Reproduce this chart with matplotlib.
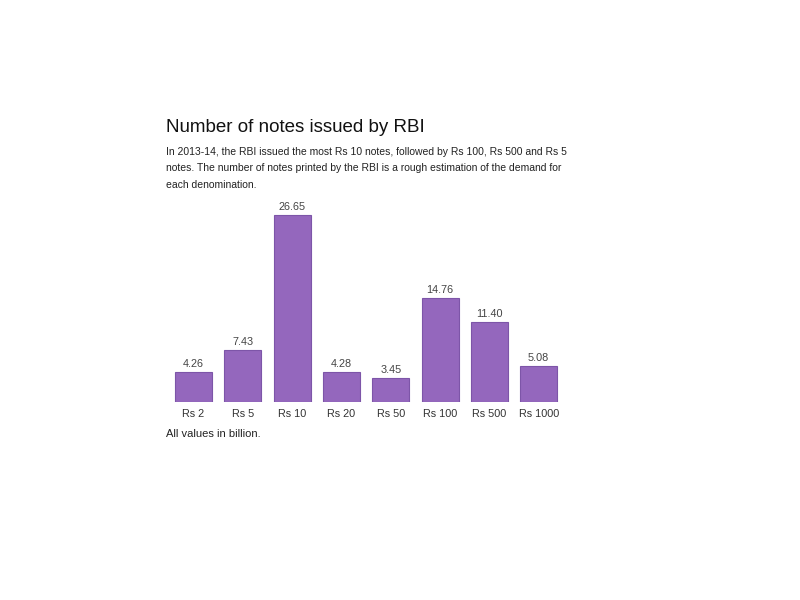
import matplotlib.pyplot as plt
import numpy as np

plt.rcParams["font.family"] = ["Liberation Sans", "DejaVu Sans"]

denominations = ["Rs 2", "Rs 5", "Rs 10", "Rs 20", "Rs 50", "Rs 100", "Rs 500", "Rs 1000"]
notes_billion = [4.26, 7.43, 26.65, 4.28, 3.45, 14.76, 11.40, 5.08]

title = "Number of notes issued by RBI"
subtitle = ("In 2013-14, the RBI issued the most Rs 10 notes, followed by Rs 100, Rs 500 and Rs 5\n"
            "notes. The number of notes printed by the RBI is a rough estimation of the demand for\n"
            "each denomination.")
footnote = "All values in billion."

W, H = 800, 600
fig = plt.figure(figsize=(8, 6), dpi=100, facecolor="white")

# axes placed in pixel terms (left, bottom, width, height)
ax_l, ax_r, ax_b, ax_t = 168.9, 563.3, 402, 205.4
ax = fig.add_axes([ax_l / W, 1 - ax_b / H, (ax_r - ax_l) / W, (ax_b - ax_t) / H])

x = np.arange(len(denominations))
bars = ax.bar(x, notes_billion, width=0.75, color="#9467bd",
              edgecolor="#7d55a8", linewidth=0.8)
for xi, v in zip(x, notes_billion):
    ax.text(xi, v + 0.45, f"{v:.2f}", ha="center", va="bottom",
            fontsize=7.8, color="#444444")

ax.set_xlim(-0.5, len(denominations) - 0.5)
ax.set_ylim(0, 28)
ax.set_xticks(x)
ax.set_xticklabels(denominations, fontsize=7.8, color="#333333")
ax.tick_params(axis="x", length=0, pad=5)
ax.set_yticks([])
for spine in ax.spines.values():
    spine.set_visible(False)

fig.text(166 / W, 1 - 128 / H, title, fontsize=13.5, color="#111111",
         ha="left", va="center")
fig.text(166 / W, 1 - 147 / H, subtitle, fontsize=7.5, color="#222222",
         ha="left", va="top", linespacing=1.8)
fig.text(166 / W, 1 - 434 / H, footnote, fontsize=8, color="#222222",
         ha="left", va="center")

fig.savefig("out.png", dpi=100, facecolor="white")
